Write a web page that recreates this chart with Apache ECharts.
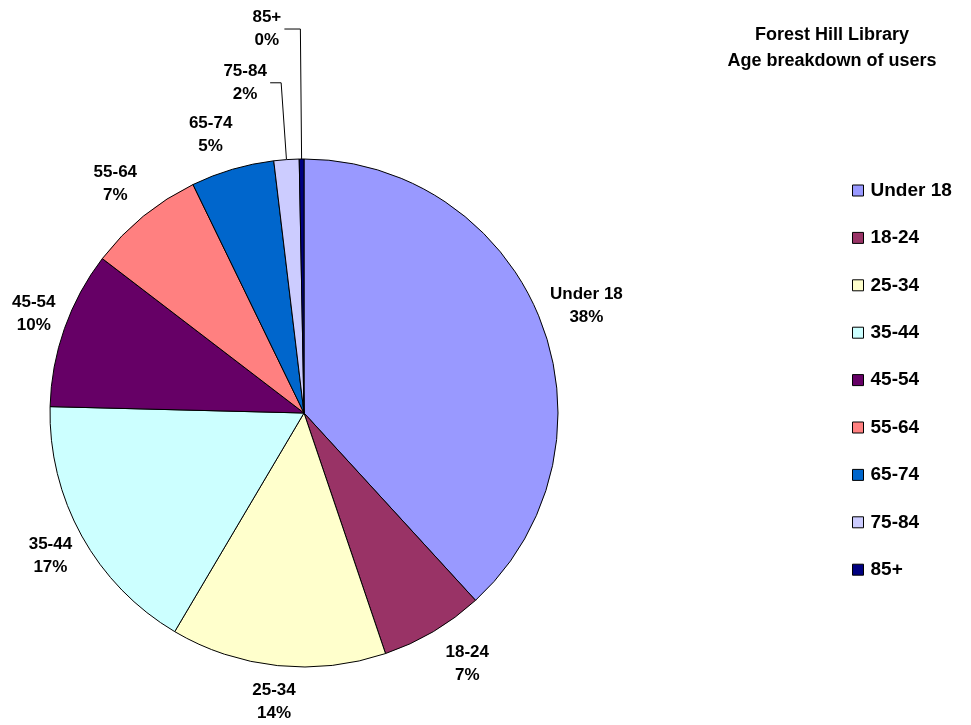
<!DOCTYPE html>
<html>
<head>
<meta charset="utf-8">
<script src="https://cdn.jsdelivr.net/npm/echarts@6/dist/echarts.min.js"></script>
<style>html,body{margin:0;padding:0;background:#fff}#c{width:971px;height:725px}</style>
</head>
<body>
<div id="c"></div>
<script>
const categories = ['Under 18', '18-24', '25-34', '35-44', '45-54', '55-64', '65-74', '75-84', '85+'];
const values = [38.2, 6.6, 13.7, 16.9, 10.0, 7.4, 5.3, 1.6, 0.3];
const colors = ['#9999FF', '#993366', '#FFFFCC', '#CCFFFF', '#660066', '#FF8080', '#0066CC', '#CCCCFF', '#000080'];
const titleText = 'Forest Hill Library\nAge breakdown of users';

// label placement styling (distance of label centre from pie centre, small angular nudge in degrees)
const labelDist = [302, 299, 290, 291, 288, 297, 293];
const labelNudge = [0.5, -2.5, 0, -0.4, 0.8, -0.2, -2.2];
// leader-line labels: radial rise above the rim and horizontal run
const leader = { 7: { rise: 77, run: 11 }, 8: { rise: 130, run: 16 } };

const FONT = 'Liberation Sans, Arial, sans-serif';
const LABEL_FS = 17;
const CX = 304, CY = 413, R = 254;
const total = values.reduce((a, b) => a + b, 0);
const midAngles = [];
(function () {
  let acc = 0;
  values.forEach(v => { midAngles.push((acc + v / 2) / total * 2 * Math.PI); acc += v; });
})();

const measureCtx = document.createElement('canvas').getContext('2d');
measureCtx.font = 'bold ' + LABEL_FS + 'px ' + FONT;
function pctText(v) { return Math.round(v / total * 100) + '%'; }

const data = categories.map((c, i) => {
  const d = { name: c, value: values[i], itemStyle: { color: colors[i] } };
  if (leader[i]) {
    const w = Math.ceil(Math.max(measureCtx.measureText(c).width, measureCtx.measureText(pctText(values[i])).width));
    d.labelLine = { show: true, length: leader[i].rise, length2: leader[i].run, lineStyle: { color: '#000', width: 1, opacity: 1 } };
    d.label = {
      formatter: p => '{c|' + p.name + '}\n{c|' + pctText(p.value) + '}',
      rich: { c: { width: w, align: 'center', fontFamily: FONT, fontWeight: 'bold', fontSize: LABEL_FS, lineHeight: 23, color: '#000' } }
    };
  }
  return d;
});

const chart = echarts.init(document.getElementById('c'), null, { renderer: 'canvas' });
chart.setOption({
  backgroundColor: '#fff',
  animation: false,
  title: {
    text: titleText,
    left: 827, top: 17, textAlign: 'center',
    textStyle: { fontFamily: FONT, fontWeight: 'bold', fontSize: 18, lineHeight: 26, color: '#000' }
  },
  legend: {
    orient: 'vertical',
    left: 852, top: 181, padding: 0,
    itemWidth: 11, itemHeight: 11,
    itemGap: 28.4,
    icon: 'rect',
    itemStyle: { borderColor: '#000', borderWidth: 1 },
    textStyle: { fontFamily: FONT, fontWeight: 'bold', fontSize: 19, lineHeight: 18, color: '#000', padding: [0, 0, 0, 2] },
    data: categories
  },
  series: [{
    type: 'pie',
    center: [CX, CY],
    radius: R,
    startAngle: 90,
    clockwise: true,
    avoidLabelOverlap: false,
    itemStyle: { borderColor: '#000', borderWidth: 1 },
    label: {
      show: true,
      position: 'outside',
      fontFamily: FONT, fontWeight: 'bold', fontSize: LABEL_FS, lineHeight: 23, color: '#000',
      formatter: p => p.name + '\n' + pctText(p.value),
      distanceToLabelLine: 3
    },
    labelLine: { show: false, length: 40, length2: 0 },
    labelLayout: function (params) {
      const i = params.dataIndex;
      if (leader[i]) return null;
      const a = midAngles[i] + labelNudge[i] * Math.PI / 180;
      const d = labelDist[i];
      return { x: CX + d * Math.sin(a), y: CY - d * Math.cos(a), align: 'center', verticalAlign: 'middle' };
    },
    data: data
  }]
});
</script>
</body>
</html>
